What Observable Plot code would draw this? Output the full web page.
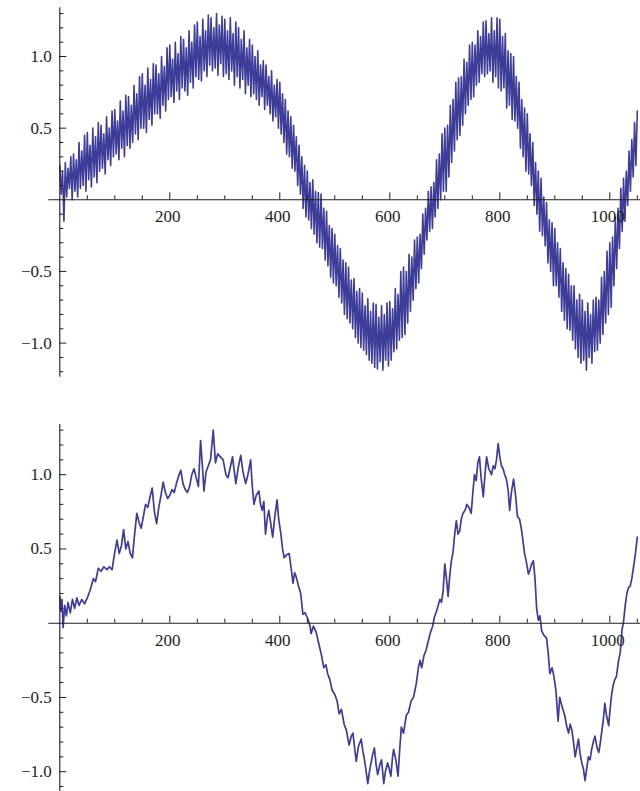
<!DOCTYPE html>
<html><head><meta charset="utf-8">
<script src="https://cdn.jsdelivr.net/npm/d3@7"></script>
<script src="https://cdn.jsdelivr.net/npm/@observablehq/plot@0.6"></script>
<style>
body{margin:0;background:#fff;width:640px;height:791px;overflow:hidden}
svg{display:block}
</style></head><body><div id="c"></div>
<script>
// ---- data ----
const topStep = 2.5; // x spacing of the noisy (top) series, starting at 0
const topY = [
 0.24,0.04,0.20,-0.15,0.26,0.02,0.22,0.08,0.30,0.00,
 0.32,0.06,0.28,0.02,0.40,0.08,0.34,0.10,0.45,0.06,
 0.47,0.14,0.38,0.09,0.50,0.16,0.44,0.12,0.54,0.20,
 0.52,0.22,0.46,0.18,0.58,0.28,0.50,0.24,0.62,0.30,
 0.63,0.32,0.55,0.28,0.69,0.36,0.62,0.30,0.73,0.38,
 0.72,0.36,0.66,0.40,0.80,0.46,0.74,0.42,0.86,0.50,
 0.88,0.50,0.80,0.47,0.92,0.56,0.84,0.52,0.95,0.60,
 0.94,0.60,0.88,0.57,1.00,0.66,0.93,0.62,1.06,0.70,
 1.08,0.72,0.98,0.68,1.10,0.76,1.02,0.70,1.14,0.78,
 1.12,0.76,1.06,0.73,1.18,0.82,1.10,0.78,1.22,0.86,
 1.24,0.84,1.14,0.83,1.26,0.90,1.18,0.86,1.29,0.94,
 1.27,0.90,1.20,0.92,1.30,0.87,1.22,0.95,1.28,0.86,
 1.26,0.88,1.18,0.84,1.27,0.90,1.16,0.80,1.24,0.86,
 1.20,0.78,1.12,0.84,1.18,0.74,1.06,0.80,1.12,0.72,
 1.08,0.74,1.00,0.70,1.04,0.66,0.94,0.72,0.97,0.63,
 0.94,0.66,0.86,0.60,0.90,0.55,0.80,0.58,0.84,0.50,
 0.82,0.46,0.74,0.40,0.70,0.32,0.62,0.30,0.58,0.22,
 0.52,0.20,0.44,0.10,0.38,0.04,0.30,-0.06,0.24,-0.12,
 0.20,-0.14,0.12,-0.20,0.14,-0.24,0.06,-0.30,0.05,-0.33,
 0.04,-0.34,-0.06,-0.42,-0.08,-0.46,-0.18,-0.54,-0.20,-0.58,
 -0.24,-0.60,-0.32,-0.68,-0.34,-0.72,-0.42,-0.80,-0.44,-0.83,
 -0.47,-0.86,-0.56,-0.90,-0.55,-0.96,-0.64,-1.00,-0.62,-1.03,
 -0.65,-1.05,-0.74,-1.08,-0.69,-1.12,-0.78,-1.14,-0.72,-1.17,
 -0.73,-1.18,-0.82,-1.13,-0.74,-1.19,-0.80,-1.12,-0.72,-1.16,
 -0.71,-1.12,-0.76,-1.06,-0.62,-1.04,-0.66,-0.98,-0.50,-0.96,
 -0.47,-0.94,-0.50,-0.86,-0.38,-0.78,-0.40,-0.70,-0.28,-0.62,
 -0.26,-0.58,-0.24,-0.48,-0.10,-0.38,-0.06,-0.28,0.06,-0.22,
 0.09,-0.20,0.12,-0.12,0.28,-0.06,0.32,0.00,0.46,0.06,
 0.50,0.06,0.52,0.16,0.66,0.26,0.70,0.34,0.82,0.42,
 0.85,0.45,0.86,0.52,0.98,0.60,0.96,0.66,1.08,0.70,
 1.10,0.72,1.08,0.80,1.18,0.82,1.14,0.88,1.24,0.86,
 1.25,0.88,1.16,0.90,1.27,0.82,1.18,0.86,1.27,0.78,
 1.26,0.76,1.14,0.78,1.16,0.64,1.04,0.66,1.02,0.56,
 1.00,0.55,0.86,0.50,0.82,0.36,0.70,0.30,0.64,0.20,
 0.60,0.18,0.46,0.10,0.40,-0.04,0.26,-0.10,0.20,-0.22,
 0.15,-0.25,0.02,-0.32,-0.02,-0.44,-0.14,-0.50,-0.16,-0.60,
 -0.20,-0.60,-0.30,-0.68,-0.34,-0.78,-0.44,-0.84,-0.48,-0.90,
 -0.52,-0.91,-0.60,-0.98,-0.60,-1.04,-0.70,-1.10,-0.66,-1.14,
 -0.70,-1.12,-0.78,-1.19,-0.72,-1.10,-0.80,-1.14,-0.70,-1.06,
 -0.68,-1.05,-0.70,-1.00,-0.54,-0.94,-0.50,-0.86,-0.36,-0.80,
 -0.30,-0.75,-0.26,-0.60,-0.12,-0.48,-0.06,-0.34,0.08,-0.22,
 0.15,-0.15,0.20,-0.04,0.34,0.06,0.42,0.16,0.54,0.24,
 0.62
];

const botX = [0,2,4,6,9,12,15,19,23,27,31,35,40,45,50,55,61,65,70,75,80,86,90,95,100,104,108,112,116,120,124,128,132,136,140,144,148,152,156,160,164,168,172,176,180,184,188,192,196,200,204,208,212,216,220,224,228,232,236,240,244,248,252,256,260,262,266,270,274,279,283,287,292,297,302,306,310,314,318,320,324,329,333,338,342,347,350,353,357,362,365,368,371,374,377,380,384,387,391,395,398,402,405,408,412,417,421,424,427,430,434,438,442,446,451,455,457,461,466,471,476,480,484,487,491,495,500,504,508,512,517,521,526,530,533,536,539,543,548,551,554,557,560,563,566,569,572,575,578,582,585,589,592,596,599,602,605,607,611,615,618,621,625,630,634,639,643,648,652,655,658,662,666,670,674,678,681,685,688,691,694,697,700,703,706,709,712,715,718,721,724,727,730,733,737,740,744,748,751,754,757,760,763,766,770,773,776,780,785,788,791,794,797,800,803,806,809,812,815,818,821,825,829,832,836,839,842,845,848,852,855,858,861,864,867,870,873,876,880,885,888,891,895,898,902,906,909,913,918,922,925,928,931,934,937,940,943,946,949,952,955,958,961,964,967,970,973,977,980,983,985,988,991,994,998,1000,1003,1006,1009,1012,1016,1019,1022,1025,1028,1031,1034,1037,1040,1044,1047,1050];
const botY = [0.18,0.08,0.16,-0.03,0.12,0.05,0.14,0.07,0.16,0.10,0.17,0.12,0.16,0.13,0.17,0.22,0.30,0.28,0.37,0.35,0.38,0.36,0.38,0.36,0.48,0.56,0.47,0.52,0.63,0.50,0.55,0.47,0.44,0.60,0.74,0.68,0.64,0.72,0.80,0.78,0.85,0.91,0.75,0.67,0.78,0.86,0.95,0.88,0.84,0.86,0.90,0.88,0.94,0.99,1.03,0.94,0.90,0.88,0.92,1.00,1.04,0.98,0.92,1.23,1.02,0.89,1.02,1.06,1.10,1.30,1.08,1.14,1.12,1.10,1.00,0.98,1.05,1.12,1.00,0.94,1.04,1.13,1.02,0.94,1.00,1.10,0.92,0.80,0.86,0.89,0.80,0.76,0.82,0.60,0.70,0.76,0.66,0.58,0.72,0.83,0.70,0.60,0.50,0.44,0.46,0.47,0.36,0.27,0.34,0.31,0.25,0.20,0.06,0.07,0.03,-0.02,-0.07,-0.02,-0.06,-0.14,-0.22,-0.30,-0.28,-0.34,-0.38,-0.45,-0.48,-0.52,-0.61,-0.58,-0.68,-0.72,-0.82,-0.76,-0.74,-0.84,-0.93,-0.83,-0.78,-0.86,-0.92,-1.00,-1.08,-1.00,-0.94,-0.88,-0.84,-0.95,-1.02,-0.95,-0.92,-1.08,-1.00,-0.94,-0.98,-1.03,-0.90,-0.85,-0.92,-1.03,-0.85,-0.70,-0.74,-0.62,-0.60,-0.52,-0.50,-0.41,-0.30,-0.25,-0.30,-0.22,-0.18,-0.12,-0.06,-0.02,0.04,0.08,0.12,0.16,0.14,0.22,0.40,0.30,0.18,0.32,0.42,0.48,0.60,0.69,0.60,0.62,0.70,0.74,0.76,0.80,0.78,0.74,0.88,1.00,0.96,1.08,1.12,0.98,0.85,1.00,1.12,1.04,1.00,1.06,1.04,1.10,1.21,1.12,1.06,1.04,1.00,0.97,0.90,0.76,0.88,0.97,0.85,0.72,0.70,0.64,0.56,0.47,0.42,0.33,0.36,0.40,0.42,0.30,0.10,0.02,0.05,-0.05,-0.08,-0.10,-0.20,-0.34,-0.30,-0.35,-0.45,-0.66,-0.50,-0.56,-0.62,-0.70,-0.74,-0.68,-0.72,-0.80,-0.90,-0.84,-0.78,-0.88,-0.94,-0.98,-1.06,-0.98,-0.90,-0.92,-0.85,-0.80,-0.76,-0.84,-0.87,-0.80,-0.74,-0.66,-0.54,-0.62,-0.69,-0.60,-0.49,-0.42,-0.38,-0.36,-0.25,-0.20,-0.05,0.01,0.12,0.20,0.24,0.25,0.30,0.40,0.48,0.58];

const xMajor = [200, 400, 600, 800, 1000];
const xMajorLabels = ["200", "400", "600", "800", "1000"];
const xMinor = [50,100,150,250,300,350,450,500,550,650,700,750,850,900,950,1050];
const yMajor = [-1.0, -0.5, 0.5, 1.0];
const yMajorLabels = ["\u22121.0", "\u22120.5", "0.5", "1.0"];
const yMinorTop = [-1.2,-1.1,-0.9,-0.8,-0.7,-0.6,-0.4,-0.3,-0.2,-0.1,0.1,0.2,0.3,0.4,0.6,0.7,0.8,0.9,1.1,1.2,1.3];
const yMinorBot = [-1.1,-0.9,-0.8,-0.7,-0.6,-0.4,-0.3,-0.2,-0.1,0.1,0.2,0.3,0.4,0.6,0.7,0.8,0.9,1.1,1.2,1.3];

// ---- drawing ----
const lineColor = "rgb(61,61,153)";
const ink = "#1e1e1e";
const font = "'Liberation Serif','Times New Roman',serif";
const xDomain = [-20, 1058];
const xRange = [48.3, 641.2];

function panel({data, yDomain, yRange, yMinor, height, lw}) {
  return Plot.plot({
    width: 640, height,
    marginTop: 0, marginBottom: 0, marginLeft: 0, marginRight: 0,
    x: {domain: xDomain, range: xRange, axis: null},
    y: {domain: yDomain, range: yRange, axis: null},
    style: {background: "white", overflow: "visible"},
    marks: [
      Plot.line(data, {x: "x", y: "y", stroke: lineColor, strokeWidth: lw, strokeLinejoin: "round"}),
      // axes crossing at the origin
      Plot.ruleY([0], {x1: () => xDomain[0], x2: () => xDomain[1], stroke: ink, strokeWidth: 1.1}),
      Plot.ruleX([0], {y1: () => yDomain[0], y2: () => yDomain[1], stroke: ink, strokeWidth: 1.1}),
      // x ticks (pointing up)
      Plot.ruleX(xMajor, {x: d => d, y1: () => 0, y2: () => 0, insetTop: -7, stroke: ink}),
      Plot.ruleX(xMinor, {x: d => d, y1: () => 0, y2: () => 0, insetTop: -4, stroke: ink}),
      // y ticks (pointing right)
      Plot.ruleY(yMajor, {y: d => d, x1: () => 0, x2: () => 0, insetRight: -7, stroke: ink}),
      Plot.ruleY(yMinor, {y: d => d, x1: () => 0, x2: () => 0, insetRight: -4, stroke: ink}),
      Plot.text(xMajor, {x: d => d, y: () => 0, text: (d, i) => xMajorLabels[i], dy: 17, dx: -2,
        fontFamily: font, fontSize: 17, fill: ink}),
      Plot.text(yMajor, {x: () => 0, y: d => d, text: (d, i) => yMajorLabels[i], dx: -8, textAnchor: "end",
        fontFamily: font, fontSize: 17, fill: ink})
    ]
  });
}

const topData = topY.map((y, i) => ({x: i * topStep, y}));
const botData = botX.map((x, i) => ({x, y: botY[i]}));

const c = document.getElementById("c");
c.append(panel({data: topData, yDomain: [-1.238, 1.34], yRange: [376.7, 7.3], yMinor: yMinorTop, height: 400, lw: 1.6}));
c.append(panel({data: botData, yDomain: [-1.14, 1.338], yRange: [392, 24], yMinor: yMinorBot, height: 391, lw: 1.7}));
</script></body></html>
